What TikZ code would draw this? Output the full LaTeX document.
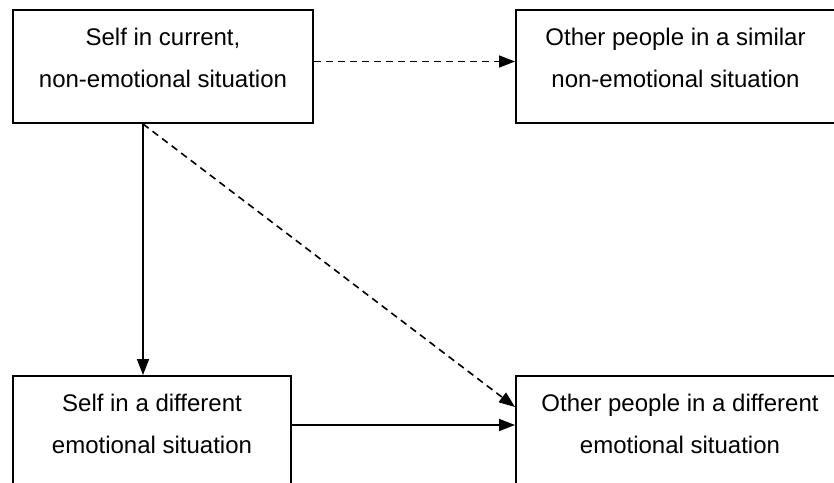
\documentclass[tikz,border=0pt]{standalone}
\usepackage{fontspec}
\setmainfont{Liberation Sans}
\usetikzlibrary{arrows.meta, positioning}

\begin{document}
\begin{tikzpicture}[
    box/.style={rectangle, draw, line width=1pt, align=center, minimum height=56.5pt, text depth=9pt, font=\fontsize{12}{21}\selectfont},
    arrow/.style={line width=0.8pt, -{Triangle[length=8pt,width=6pt]}},
    dasharrow/.style={arrow, dash pattern=on 3.5pt off 2.5pt}
]

\useasboundingbox (0,0) rectangle (417pt,-241pt);
\clip (0,0) rectangle (417pt,-241pt);

\node[box, minimum width=150pt, anchor=north west] (selfnow) at (6pt,-4.5pt) {Self in current,\\non-emotional situation};
\node[box, minimum width=159.5pt, right=100.5pt of selfnow.north east, anchor=north west] (othersimilar) {Other people in a similar\\non-emotional situation};
\node[box, minimum width=139pt, below=125.5pt of selfnow.south west, anchor=north west] (selfemo) {Self in a different\\emotional situation};
\node[box, minimum width=164pt, right=111.5pt of selfemo.north east, anchor=north west] (otheremo) {Other people in a different\\emotional situation};

\draw[dasharrow] ([yshift=2.5pt]selfnow.east) -- ([yshift=2.5pt]selfnow.east -| othersimilar.west);
\draw[arrow] ([xshift=-10pt]selfnow.south) -- ([xshift=-10pt]selfnow.south |- selfemo.north);
\draw[dasharrow] ([xshift=-10pt]selfnow.south) -- ([yshift=-16pt]otheremo.north west);
\draw[arrow] ([yshift=-25pt]selfemo.north east) -- ([yshift=-25pt]selfemo.north east -| otheremo.west);

\end{tikzpicture}
\end{document}
